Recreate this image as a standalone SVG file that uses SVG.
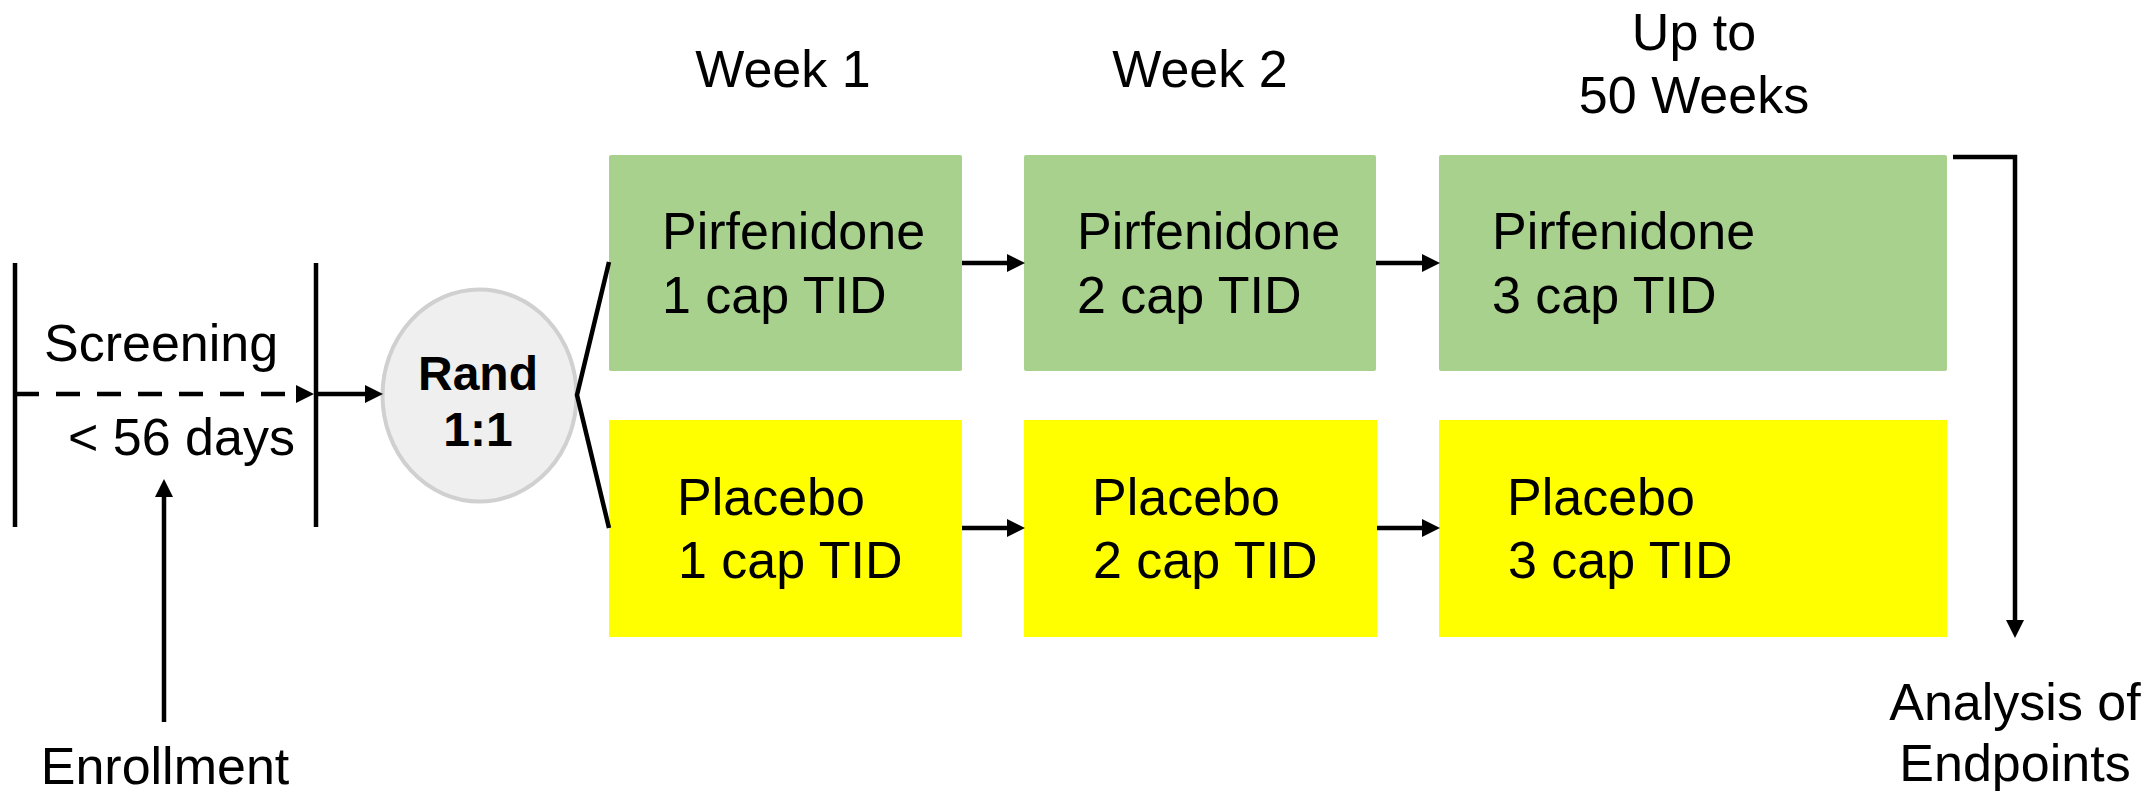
<svg xmlns="http://www.w3.org/2000/svg" width="2154" height="791" viewBox="0 0 2154 791">
<style>
text{font-family:"Liberation Sans",Arial,sans-serif;font-size:52px;fill:#000}
.c{text-anchor:middle}
.b{font-weight:bold;font-size:48px}
.ln{stroke:#000;stroke-width:4.5;fill:none}
.green{fill:#a9d18e}
.yellow{fill:#ffff00}
</style>
<defs>
<marker id="ah" markerUnits="userSpaceOnUse" viewBox="0 0 18 18" refX="0" refY="9" markerWidth="18" markerHeight="18" orient="auto">
<path d="M0,0 L18,9 L0,18 Z" fill="#000"/>
</marker>
</defs>
<rect width="2154" height="791" fill="#fff"/>

<g id="headers">
<text class="c" x="783" y="87">Week 1</text>
<text class="c" x="1200" y="87">Week 2</text>
<text class="c" x="1694" y="50">Up to</text>
<text class="c" x="1694" y="113">50 Weeks</text>
</g>

<g id="screening">
<line class="ln" x1="15" y1="263" x2="15" y2="527"/>
<line class="ln" x1="316" y1="263" x2="316" y2="527"/>
<text x="44" y="361">Screening</text>
<text x="68" y="455">&lt; 56 days</text>
</g>

<g id="rand">
<ellipse cx="479.5" cy="395.5" rx="97" ry="106" fill="#efefef" stroke="#d0d0d0" stroke-width="4"/>
<text class="c b" x="478" y="390">Rand</text>
<text class="c b" x="478" y="446">1:1</text>
</g>

<g id="pirf1"><rect class="green" x="609" y="155" width="353" height="216" rx="2"/>
<text x="662" y="249">Pirfenidone</text><text x="662" y="313">1 cap TID</text></g>
<g id="pirf2"><rect class="green" x="1024" y="155" width="352" height="216" rx="2"/>
<text x="1077" y="249">Pirfenidone</text><text x="1077" y="313">2 cap TID</text></g>
<g id="pirf3"><rect class="green" x="1439" y="155" width="508" height="216" rx="2"/>
<text x="1492" y="249">Pirfenidone</text><text x="1492" y="313">3 cap TID</text></g>

<g id="plac1"><rect class="yellow" x="609" y="420" width="353" height="217"/>
<text x="677" y="515">Placebo</text><text x="678" y="578">1 cap TID</text></g>
<g id="plac2"><rect class="yellow" x="1024" y="420" width="353" height="217"/>
<text x="1092" y="515">Placebo</text><text x="1093" y="578">2 cap TID</text></g>
<g id="plac3"><rect class="yellow" x="1439" y="420" width="508" height="217"/>
<text x="1507" y="515">Placebo</text><text x="1508" y="578">3 cap TID</text></g>

<g id="enrollment"><text class="c" x="165" y="784">Enrollment</text></g>
<g id="analysis">
<text class="c" x="2015" y="720">Analysis of</text>
<text class="c" x="2015" y="781">Endpoints</text>
</g>

<g id="connectors">
<line class="ln" x1="15" y1="394" x2="296" y2="394" stroke-dasharray="24 17" marker-end="url(#ah)"/>
<line class="ln" x1="316" y1="394" x2="365" y2="394" marker-end="url(#ah)"/>
<polyline class="ln" points="609,262 577,395 609,528"/>
<line class="ln" x1="962" y1="263" x2="1007" y2="263" marker-end="url(#ah)"/>
<line class="ln" x1="962" y1="528" x2="1007" y2="528" marker-end="url(#ah)"/>
<line class="ln" x1="1376" y1="263" x2="1422" y2="263" marker-end="url(#ah)"/>
<line class="ln" x1="1377" y1="528" x2="1422" y2="528" marker-end="url(#ah)"/>
<line class="ln" x1="164" y1="722" x2="164" y2="497" marker-end="url(#ah)"/>
<polyline class="ln" points="1953,157 2015,157 2015,620" marker-end="url(#ah)"/>
</g>
</svg>
